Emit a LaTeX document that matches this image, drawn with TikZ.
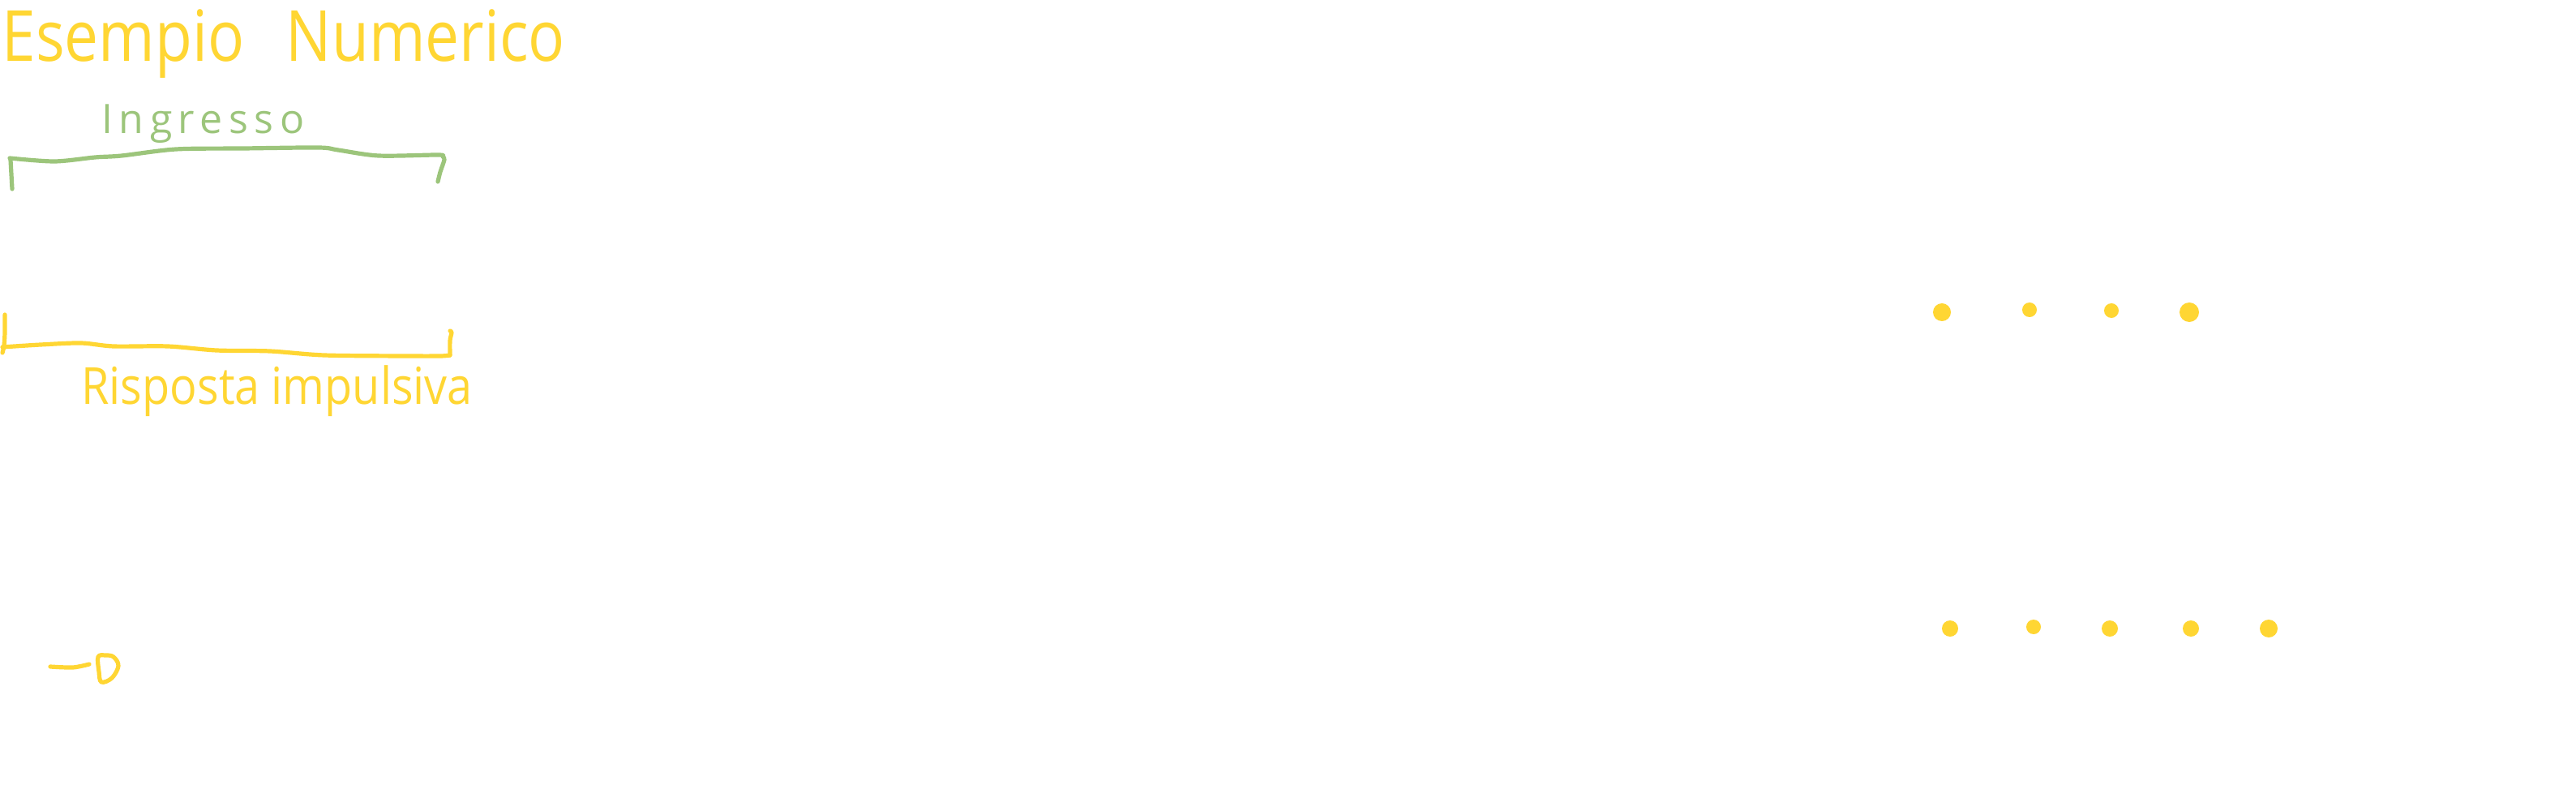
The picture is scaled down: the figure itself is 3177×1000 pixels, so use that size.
\documentclass[tikz,border=0pt]{standalone}
\usepackage{fontspec}
\setmainfont{Open Sans}
\definecolor{penyellow}{HTML}{FFD633}
\definecolor{pengreen}{HTML}{9CC57B}
\begin{document}
\begin{tikzpicture}[x=0.5pt,y=-0.5pt,
  ystroke/.style={draw=penyellow,line width=2.6pt,line cap=round,line join=round},
  gstroke/.style={draw=pengreen,line width=2.6pt,line cap=round,line join=round},
  ydot/.style={fill=penyellow,draw=none},
  lbl/.style={inner sep=0pt,anchor=base west}]
\useasboundingbox[fill=white] (0,0) rectangle (3177,1000);
% title
\node[lbl,text=penyellow,font=\fontsize{43.5}{45}\selectfont] (title) at (2,76)
  {\scalebox{0.86}[1]{Esempio\hspace{30pt}Numerico}};
% Ingresso
\node[lbl,text=pengreen,font=\fontsize{25}{27}\selectfont\addfontfeature{LetterSpace=15}] (ingresso) at (125,165) {Ingresso};
\draw[gstroke] plot[smooth,tension=0.5] coordinates {(15,233) (14,215) (13,197)};
\draw[gstroke] plot[smooth,tension=0.5] coordinates {(12,195) (67,199) (117,194) (150,192) (217,184) (300,183) (393,182) (417,185) (467,192) (540,191) (546,193) (548,197) (543,212) (540,224)};
% Risposta impulsiva
\draw[ystroke] plot[smooth,tension=0.5] coordinates {(6,388) (6,410) (5,426) (3,435)};
\draw[ystroke] plot[smooth,tension=0.5] coordinates {(3,428) (50,425) (100,423) (140,427) (207,427) (267,432) (333,433) (400,438) (500,439) (543,439) (555,438)};
\draw[ystroke] plot[smooth,tension=0.5] coordinates {(555,438) (555,420) (557,410) (555,408)};
\node[lbl,text=penyellow,font=\fontsize{31.5}{33}\selectfont] (risposta) at (100,498)
  {\scalebox{0.885}[1]{Risposta\hspace{8pt}impulsiva}};
% dots row 1
\fill[ydot] (2395,385) circle[radius=5.5pt];
\fill[ydot] (2503,382) circle[radius=4.5pt];
\fill[ydot] (2604,383) circle[radius=4.5pt];
\fill[ydot] (2700,385) circle[radius=6pt];
% dots row 2
\fill[ydot] (2405,775) circle[radius=5pt];
\fill[ydot] (2508,773) circle[radius=4.5pt];
\fill[ydot] (2602,775) circle[radius=5pt];
\fill[ydot] (2702,775) circle[radius=5pt];
\fill[ydot] (2798,775) circle[radius=5.5pt];
% -D mark
\draw[ystroke] plot[smooth,tension=0.5] coordinates {(62,822) (90,823) (110,819)};
\draw[ystroke] plot[smooth cycle,tension=0.6] coordinates {(121,810) (122,828) (125,841) (138,836) (146,821) (140,810) (130,808)};
\end{tikzpicture}
\end{document}
